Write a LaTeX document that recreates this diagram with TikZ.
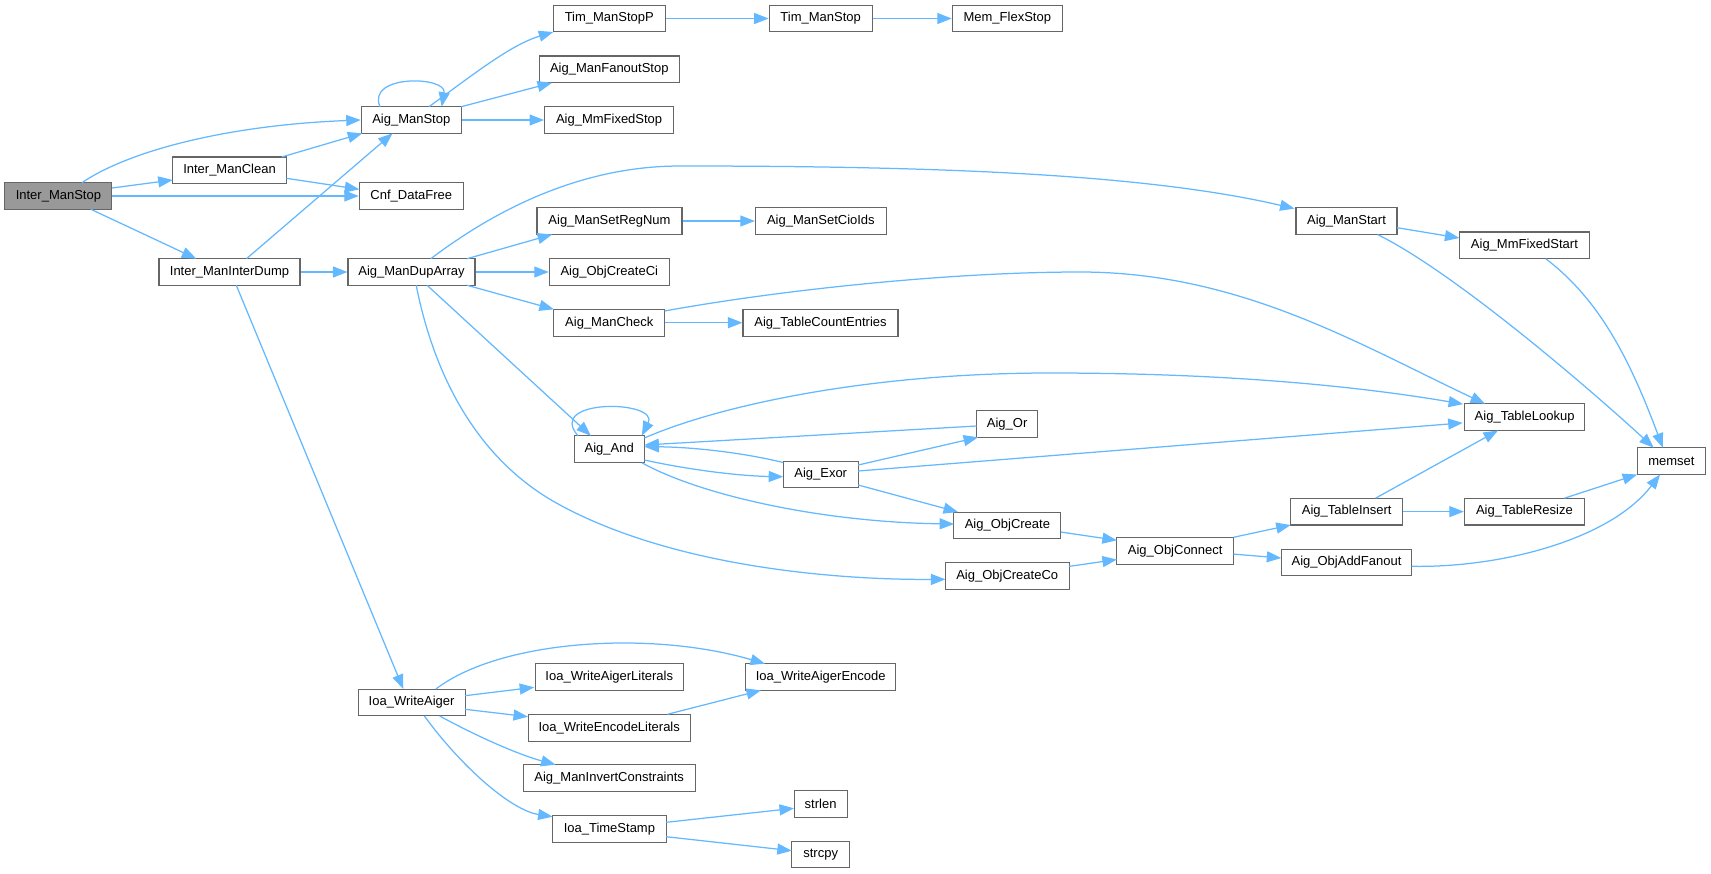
\documentclass[tikz,border=0pt]{standalone}
\usepackage{fontspec}
\setmainfont{Liberation Sans}
\usetikzlibrary{arrows.meta}
\definecolor{edgeblue}{HTML}{63B8FF}
\definecolor{boxgray}{HTML}{666666}
\definecolor{rootfill}{HTML}{999999}
\tikzset{
  fn/.style={draw=boxgray, line width=1.1pt, fill=white, minimum height=26.7pt, inner sep=0pt, font=\fontsize{13}{15}\selectfont},
  root/.style={fn, fill=rootfill},
  conn/.style={draw=edgeblue, line width=1.25pt, -{Triangle[length=14.5pt,width=11pt]}}
}
\begin{document}
\begin{tikzpicture}[x=1pt,y=-1pt]
\useasboundingbox (0,0) rectangle (1711,873);
% column 1
\node[root, minimum width=107pt] (ims) at (58.4,196) {Inter\_ManStop};
% column 2
\node[fn, minimum width=114pt] (imc) at (229.5,170.3) {Inter\_ManClean};
\node[fn, minimum width=141pt] (imd) at (229.5,272) {Inter\_ManInterDump};
% column 3
\node[fn, minimum width=100pt] (ams) at (411.3,120) {Aig\_ManStop};
\node[fn, minimum width=104pt] (cdf) at (411.3,196) {Cnf\_DataFree};
\node[fn, minimum width=127pt] (mda) at (411.5,272) {Aig\_ManDupArray};
\node[fn, minimum width=107pt] (iwa) at (411.6,702.5) {Ioa\_WriteAiger};
% column 4
\node[fn, minimum width=112pt] (tsp) at (609.3,18.5) {Tim\_ManStopP};
\node[fn, minimum width=140pt] (mfs) at (609.3,69.3) {Aig\_ManFanoutStop};
\node[fn, minimum width=129pt] (mmfs) at (609.1,120) {Aig\_MmFixedStop};
\node[fn, minimum width=145pt] (srn) at (609.5,221) {Aig\_ManSetRegNum};
\node[fn, minimum width=120pt] (occi) at (609.3,272) {Aig\_ObjCreateCi};
\node[fn, minimum width=111pt] (mck) at (609.3,322.7) {Aig\_ManCheck};
\node[fn, minimum width=70pt] (and) at (609.2,449.2) {Aig\_And};
\node[fn, minimum width=148pt] (wal) at (609.3,677) {Ioa\_WriteAigerLiterals};
\node[fn, minimum width=162pt] (wel) at (609.2,727.7) {Ioa\_WriteEncodeLiterals};
\node[fn, minimum width=172pt] (mic) at (609.2,778) {Aig\_ManInvertConstraints};
\node[fn, minimum width=114pt] (its) at (609.4,829) {Ioa\_TimeStamp};
% column 5
\node[fn, minimum width=103pt] (tms) at (820.7,18.5) {Tim\_ManStop};
\node[fn, minimum width=131pt] (sci) at (820.9,221) {Aig\_ManSetCioIds};
\node[fn, minimum width=155pt] (tce) at (820.5,322.7) {Aig\_TableCountEntries};
\node[fn, minimum width=75pt] (exor) at (820.7,474.5) {Aig\_Exor};
\node[fn, minimum width=150pt] (wae) at (820.7,677) {Ioa\_WriteAigerEncode};
\node[fn, minimum width=53pt] (strlen) at (820.6,804) {strlen};
\node[fn, minimum width=58pt] (strcpy) at (820.7,854.5) {strcpy};
% column 6
\node[fn, minimum width=110pt] (mem) at (1007.3,18.5) {Mem\_FlexStop};
\node[fn, minimum width=61pt] (or) at (1007.1,424) {Aig\_Or};
\node[fn, minimum width=107pt] (oc) at (1007.4,525.5) {Aig\_ObjCreate};
\node[fn, minimum width=124pt] (occo) at (1007.2,575.7) {Aig\_ObjCreateCo};
% column 7
\node[fn, minimum width=117pt] (ocn) at (1175.2,550.7) {Aig\_ObjConnect};
% column 8
\node[fn, minimum width=101pt] (mst) at (1346.5,221.2) {Aig\_ManStart};
\node[fn, minimum width=112pt] (ti) at (1346.7,511.6) {Aig\_TableInsert};
\node[fn, minimum width=130pt] (oaf) at (1346.5,562.5) {Aig\_ObjAddFanout};
% column 9
\node[fn, minimum width=130pt] (mmfst) at (1524.4,245.3) {Aig\_MmFixedStart};
\node[fn, minimum width=120pt] (tl) at (1524.6,417.1) {Aig\_TableLookup};
\node[fn, minimum width=120pt] (tr) at (1524.4,511.6) {Aig\_TableResize};
% column 10
\node[fn, minimum width=68.5pt] (memset) at (1671.4,461.1) {memset};

% ---- connectors ----
\draw[conn] ([shift={(23.6,-13.3)}]ims.center) .. controls (130,150) and (230,125) .. (ams.west);
\draw[conn] ([shift={(53.6,-8)}]ims.center) -- ([shift={(-56.8,9.7)}]imc.center);
\draw[conn] (ims.east) -- (cdf.west);
\draw[conn] ([shift={(32.5,13.3)}]ims.center) -- ([shift={(-33.2,-13.3)}]imd.center);
\draw[conn] ([shift={(52.2,-13.3)}]imc.center) -- ([shift={(-49,13.3)}]ams.center);
\draw[conn] ([shift={(57,8)}]imc.center) -- ([shift={(-52,-6.7)}]cdf.center);
\draw[conn] ([shift={(17,-13.3)}]imd.center) -- ([shift={(-18.7,13.3)}]ams.center);
\draw[conn] (imd.east) -- (mda.west);
\draw[conn] ([shift={(6.8,13.3)}]imd.center) -- ([shift={(-8.3,-13.5)}]iwa.center);
% Aig_ManStop
\draw[conn] ([shift={(-31.3,-13.3)}]ams.center) .. controls (366,74) and (447,76) .. ([shift={(30.4,-13.3)}]ams.center);
\draw[conn] ([shift={(17.7,-13.3)}]ams.center) .. controls (470,77) and (510,45) .. ([shift={(-56,13.5)}]tsp.center);
\draw[conn] ([shift={(50,-13.3)}]ams.center) -- ([shift={(-57.3,13.5)}]mfs.center);
\draw[conn] (ams.east) -- (mmfs.west);
\draw[conn] (tsp.east) -- (tms.west);
\draw[conn] (tms.east) -- (mem.west);
% Aig_ManDupArray
\draw[conn] ([shift={(19.3,-13.3)}]mda.center) .. controls (482,220) and (570,166) .. (680,166)
  .. controls (950,166) and (1150,175) .. ([shift={(-51.9,-12.6)}]mst.center);
\draw[conn] ([shift={(55.6,-13.3)}]mda.center) -- ([shift={(-57.4,13.5)}]srn.center);
\draw[conn] (mda.east) -- (occi.west);
\draw[conn] ([shift={(55.6,13.3)}]mda.center) -- ([shift={(-55.4,-13.4)}]mck.center);
\draw[conn] ([shift={(15.6,13.3)}]mda.center) -- ([shift={(-18.4,-13.5)}]and.center);
\draw[conn] ([shift={(4.7,13.3)}]mda.center) .. controls (435,380) and (480,462) .. (560,505)
  .. controls (680,570) and (850,580) .. ([shift={(-61.8,3.6)}]occo.center);
% Aig_ManCheck
\draw[conn] (mck.east) -- (tce.west);
\draw[conn] ([shift={(55.3,-11.7)}]mck.center) .. controls (780,290) and (950,272) .. (1080,272)
  .. controls (1240,272) and (1360,345) .. ([shift={(-39.6,-13.4)}]tl.center);
\draw[conn] (srn.east) -- (sci.west);
% Aig_ManStart
\draw[conn] ([shift={(50.6,6.5)}]mst.center) -- ([shift={(-65,-7.3)}]mmfst.center);
\draw[conn] ([shift={(31.1,13.4)}]mst.center) .. controls (1450,270) and (1580,380) .. ([shift={(-17.7,-13.4)}]memset.center);
\draw[conn] ([shift={(21.3,13.4)}]mmfst.center) .. controls (1600,300) and (1630,360) .. ([shift={(-8.6,-13.4)}]memset.center);
% Aig_And
\draw[conn] ([shift={(-31.2,-13.5)}]and.center) .. controls (545,398) and (660,400) .. ([shift={(32.6,-13.5)}]and.center);
\draw[conn] ([shift={(35.2,-11.2)}]and.center) .. controls (720,405) and (870,373) .. (1050,373)
  .. controls (1250,373) and (1380,390) .. ([shift={(-61.5,-13)}]tl.center);
\draw[conn] ([shift={(35.2,10.8)}]and.center) .. controls (690,470) and (740,476) .. ([shift={(-37.5,2.2)}]exor.center);
\draw[conn] ([shift={(-37.5,-12)}]exor.center) .. controls (740,452) and (690,447) .. ([shift={(35.2,-2.5)}]and.center);
\draw[conn] ([shift={(-30.6,2)}]or.center) -- ([shift={(35.2,-4.2)}]and.center);
\draw[conn] ([shift={(32.6,13.5)}]and.center) .. controls (700,495) and (820,522) .. ([shift={(-53.3,-1.5)}]oc.center);
% Aig_Exor
\draw[conn] ([shift={(37.5,-9.5)}]exor.center) -- ([shift={(-29,13.3)}]or.center);
\draw[conn] ([shift={(37.5,-3.5)}]exor.center) -- ([shift={(-61.9,5.8)}]tl.center);
\draw[conn] ([shift={(37.5,10.5)}]exor.center) -- ([shift={(-49.4,-13.5)}]oc.center);
% object creation chain
\draw[conn] ([shift={(53.3,6.5)}]oc.center) -- ([shift={(-58.3,-10.4)}]ocn.center);
\draw[conn] ([shift={(61.7,-9.3)}]occo.center) -- ([shift={(-58.3,8.8)}]ocn.center);
\draw[conn] ([shift={(58.3,-13.4)}]ocn.center) -- ([shift={(-56,13.4)}]ti.center);
\draw[conn] ([shift={(58.3,3.4)}]ocn.center) -- ([shift={(-65.2,-4.5)}]oaf.center);
\draw[conn] ([shift={(28.8,-13.4)}]ti.center) -- ([shift={(-26.6,13.4)}]tl.center);
\draw[conn] (ti.east) -- (tr.west);
\draw[conn] ([shift={(40,-13.4)}]tr.center) -- ([shift={(-34.3,13.4)}]memset.center);
\draw[conn] ([shift={(65.2,3.8)}]oaf.center) .. controls (1500,568) and (1610,540) .. ([shift={(-11.4,13.4)}]memset.center);
% Ioa_WriteAiger
\draw[conn] ([shift={(24.3,-13.5)}]iwa.center) .. controls (500,640) and (650,630) .. ([shift={(-55.7,-13.3)}]wae.center);
\draw[conn] ([shift={(53.4,-6.8)}]iwa.center) -- ([shift={(-75.1,10.3)}]wal.center);
\draw[conn] ([shift={(53.4,6.8)}]iwa.center) -- ([shift={(-81.2,-11)}]wel.center);
\draw[conn] ([shift={(58.2,-13.4)}]wel.center) -- ([shift={(-59.7,13.3)}]wae.center);
\draw[conn] ([shift={(28.1,13.5)}]iwa.center) .. controls (480,738) and (520,755) .. ([shift={(-53.6,-13.3)}]mic.center);
\draw[conn] ([shift={(12.8,13.5)}]iwa.center) .. controls (460,765) and (510,810) .. ([shift={(-56.8,-12.3)}]its.center);
\draw[conn] ([shift={(56.8,-6.7)}]its.center) -- ([shift={(-26.6,4.3)}]strlen.center);
\draw[conn] ([shift={(56.8,7.7)}]its.center) -- ([shift={(-28.9,-3.8)}]strcpy.center);
\end{tikzpicture}
\end{document}
